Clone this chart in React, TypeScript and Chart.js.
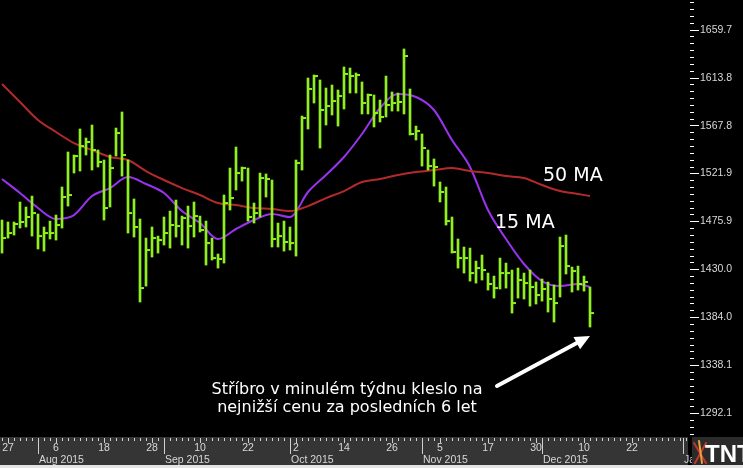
import React, { useEffect, useRef } from 'react';
import { Chart, registerables } from 'chart.js';

Chart.register(...registerables);

// ---- Data (trading-day index 0 = 24 Jul 2015, 98 = 11 Dec 2015) ----
const highs = [
  1477.3, 1475.4, 1475.4, 1494.6, 1489.8, 1500.3, 1483.1, 1470.6, 1476.3, 1482.1,
  1509.0, 1542.6, 1539.7, 1564.7, 1556.0, 1568.5, 1544.5, 1534.9, 1539.7, 1565.6,
  1581.0, 1534.9, 1497.5, 1478.3, 1460.0, 1470.6, 1461.9, 1480.2, 1485.9, 1496.5,
  1481.1, 1490.7, 1494.6, 1481.1, 1476.3, 1460.0, 1444.7, 1501.3, 1527.2, 1547.4,
  1528.2, 1527.2, 1493.6, 1522.4, 1521.5, 1515.7, 1474.4, 1476.3, 1470.6, 1534.9,
  1577.1, 1613.6, 1616.5, 1611.7, 1604.0, 1606.9, 1602.1, 1624.2, 1623.2, 1618.4,
  1609.8, 1598.3, 1597.3, 1592.5, 1615.5, 1600.2, 1599.2, 1641.5, 1603.1, 1567.5,
  1559.9, 1544.5, 1535.9, 1513.8, 1509.0, 1480.2, 1459.1, 1451.4, 1450.4, 1437.9,
  1443.7, 1426.4, 1423.5, 1440.8, 1436.0, 1429.3, 1431.2, 1426.4, 1429.3, 1417.8,
  1420.7, 1417.8, 1414.9, 1461.0, 1462.9, 1432.2, 1433.1, 1423.5, 1413.0,
];
const lows = [
  1445.6, 1460.0, 1462.9, 1469.6, 1470.6, 1461.9, 1449.5, 1447.5, 1459.1, 1458.1,
  1469.6, 1490.7, 1522.4, 1524.3, 1539.7, 1525.3, 1528.2, 1477.3, 1489.8, 1538.7,
  1519.5, 1464.8, 1461.0, 1398.6, 1413.9, 1441.8, 1445.6, 1453.3, 1450.4, 1461.0,
  1453.3, 1450.4, 1461.0, 1465.8, 1434.1, 1438.9, 1431.2, 1436.0, 1486.9, 1506.1,
  1514.7, 1476.3, 1474.4, 1480.2, 1499.4, 1451.4, 1451.4, 1447.5, 1448.5, 1442.7,
  1525.3, 1564.7, 1589.6, 1546.4, 1568.5, 1578.1, 1567.5, 1583.9, 1599.2, 1599.2,
  1579.1, 1579.1, 1566.6, 1571.4, 1576.2, 1581.9, 1581.9, 1579.1, 1558.9, 1554.1,
  1529.1, 1525.3, 1509.9, 1494.6, 1472.5, 1445.6, 1431.2, 1426.4, 1418.7, 1416.8,
  1419.7, 1410.1, 1402.4, 1411.1, 1412.0, 1388.0, 1402.4, 1401.5, 1394.7, 1396.7,
  1399.5, 1389.0, 1379.4, 1403.4, 1425.5, 1408.2, 1410.1, 1409.1, 1374.6,
];
const closes = [
  1460.0, 1464.8, 1473.5, 1475.4, 1480.2, 1484.0, 1461.9, 1464.8, 1464.8, 1472.5,
  1499.4, 1501.3, 1538.7, 1548.3, 1552.2, 1544.5, 1533.0, 1488.8, 1527.2, 1560.8,
  1539.7, 1484.0, 1470.6, 1412.0, 1448.5, 1460.0, 1458.1, 1464.8, 1472.5, 1471.5,
  1479.2, 1471.5, 1481.1, 1467.7, 1455.2, 1440.8, 1439.9, 1493.6, 1498.4, 1522.4,
  1527.2, 1480.2, 1484.0, 1517.6, 1516.7, 1459.1, 1461.9, 1456.2, 1455.2, 1532.0,
  1575.2, 1603.1, 1615.5, 1582.9, 1586.7, 1591.5, 1596.3, 1617.5, 1615.5, 1616.5,
  1589.6, 1597.3, 1580.0, 1576.2, 1587.7, 1589.6, 1590.6, 1634.7, 1559.9, 1562.7,
  1546.4, 1529.1, 1528.2, 1504.2, 1476.3, 1446.6, 1440.8, 1440.8, 1426.4, 1431.2,
  1429.3, 1415.9, 1412.0, 1426.4, 1426.4, 1397.6, 1419.7, 1416.8, 1413.0, 1405.3,
  1411.1, 1401.5, 1397.6, 1452.3, 1433.1, 1428.3, 1415.9, 1417.8, 1388.0,
];
const maIndex = [
  0, 3, 6, 9, 12, 15, 18, 21, 24, 27, 30, 33, 36, 39, 42, 45, 48,
  51, 54, 57, 60, 63, 66, 69, 72, 75, 78, 81, 84, 87, 90, 93, 96, 98,
];
const ma50 = [
  1607.9, 1590.6, 1573.3, 1561.8, 1551.2, 1544.5, 1537.8, 1534.9, 1524.3, 1515.7, 1508.0, 1501.3,
  1493.6, 1491.7, 1488.8, 1487.9, 1485.9, 1490.7, 1498.4, 1505.1, 1513.8, 1516.7, 1520.5, 1523.4,
  1525.3, 1527.2, 1524.3, 1522.4, 1519.5, 1517.6, 1510.9, 1505.1, 1502.3, 1500.3,
];
const ma15 = [
  1516.7, 1503.2, 1488.8, 1478.3, 1482.1, 1500.3, 1508.0, 1518.6, 1511.9, 1503.2, 1485.9, 1474.4,
  1459.1, 1468.7, 1477.3, 1483.1, 1480.2, 1504.2, 1520.5, 1537.8, 1559.9, 1584.8, 1598.3, 1595.4,
  1582.9, 1554.1, 1528.2, 1486.9, 1459.1, 1435.1, 1418.7, 1413.9, 1415.9, 1413.0,
];
const yTickValues = [1292.1, 1338.1, 1384.0, 1430.0, 1475.9, 1521.9, 1567.8, 1613.8, 1659.7];
const xTickIndex = [1, 9, 17, 25, 33, 41, 49, 57, 65, 73, 81, 89, 97, 105];
const xTickLabels = ['27', '6', '18', '28', '10', '22', '2', '14', '26', '5', '17', '30', '10', '22'];
const monthIndex = [6, 27, 48, 70, 90, 113.5];
const monthLabels = ['Aug 2015', 'Sep 2015', 'Oct 2015', 'Nov 2015', 'Dec 2015', 'Jan 2016'];
const noteLines = ['Stříbro v minulém týdnu kleslo na', 'nejnižší cenu za posledních 6 let'];

// ---- Styles ----
const GREEN = '#8ff01c';
const RED = '#b32a2a';
const PURPLE = '#9a33f0';
const AXIS_FONT = "'Liberation Sans', Arial, sans-serif";
const NOTE_FONT = "'DejaVu Sans', Verdana, sans-serif";
const X_MIN = -1 / 3;
const X_MAX = 114.333;
const Y_MIN = 1269.06;
const Y_MAX = 1688.49;
const TICK_SHIFT = 0.4;
const LAST_INDEX = 114;

const decoPlugin = {
  id: 'deco',
  beforeDraw(chart: any) {
    const { ctx, width, height, chartArea: ca } = chart;
    ctx.save();
    ctx.fillStyle = '#000';
    ctx.fillRect(0, 0, width, height);
    ctx.fillStyle = '#353535';
    ctx.fillRect(0, ca.bottom, ca.right, height - ca.bottom);
    ctx.restore();
  },
  afterDraw(chart: any) {
    const { ctx, width, height, chartArea: ca } = chart;
    const xs = chart.scales.x;
    const ys = chart.scales.y;
    ctx.save();
    // x minor ticks
    ctx.fillStyle = '#d0d0d0';
    for (let i = 0; i <= LAST_INDEX; i++) {
      const px = Math.round(xs.getPixelForValue(i));
      ctx.fillRect(px, ca.bottom + 1, 1, 3);
    }
    for (const v of xTickIndex) {
      const px = Math.round(xs.getPixelForValue(v));
      ctx.fillRect(px, ca.bottom + 1, 1, 5);
    }
    // month ticks & labels
    ctx.font = `10.5px ${AXIS_FONT}`;
    ctx.textAlign = 'left';
    ctx.textBaseline = 'middle';
    monthIndex.forEach((m, k) => {
      const px = Math.round(xs.getPixelForValue(m));
      ctx.fillStyle = '#d0d0d0';
      ctx.fillRect(px, ca.bottom + 1, 1, 16);
      ctx.fillStyle = '#d8d8d8';
      ctx.fillText(monthLabels[k], px + 1, ca.bottom + 23);
    });
    // y ticks
    ctx.fillStyle = '#ffffff';
    const step = (yTickValues[1] - yTickValues[0]) / 7;
    for (let k = -40; k <= 80; k++) {
      const v = yTickValues[0] + k * step;
      if (v < Y_MIN || v > Y_MAX) continue;
      const py = Math.round(ys.getPixelForValue(v));
      const major = k % 7 === 0;
      ctx.fillRect(ca.right + 2, py, major ? 9 : 4, 1);
    }
    // MA labels
    ctx.fillStyle = '#ffffff';
    ctx.font = `19px ${NOTE_FONT}`;
    ctx.textAlign = 'left';
    ctx.textBaseline = 'alphabetic';
    ctx.fillText('50 MA', xs.getPixelForValue(90.17), ys.getPixelForValue(1514.7));
    ctx.fillText('15 MA', xs.getPixelForValue(82.17), ys.getPixelForValue(1469.6));
    // note
    ctx.font = `16px ${NOTE_FONT}`;
    ctx.textAlign = 'center';
    ctx.fillText(noteLines[0], xs.getPixelForValue(57.5), ys.getPixelForValue(1310.3));
    ctx.fillText(noteLines[1], xs.getPixelForValue(57.5), ys.getPixelForValue(1293.5));
    // arrow
    const x0 = xs.getPixelForValue(82.5);
    const y0 = ys.getPixelForValue(1318.0);
    const x1 = xs.getPixelForValue(98.0);
    const y1 = ys.getPixelForValue(1366.0);
    const ang = Math.atan2(y1 - y0, x1 - x0);
    const headLen = 15;
    const headW = 7;
    const bx = x1 - Math.cos(ang) * headLen;
    const by = y1 - Math.sin(ang) * headLen;
    ctx.strokeStyle = '#ffffff';
    ctx.lineWidth = 4;
    ctx.lineCap = 'round';
    ctx.beginPath();
    ctx.moveTo(x0, y0);
    ctx.lineTo(bx, by);
    ctx.stroke();
    ctx.beginPath();
    ctx.moveTo(x1, y1);
    ctx.lineTo(bx + Math.sin(ang) * headW, by - Math.cos(ang) * headW);
    ctx.lineTo(bx - Math.sin(ang) * headW, by + Math.cos(ang) * headW);
    ctx.closePath();
    ctx.fillStyle = '#ffffff';
    ctx.fill();
    // logo corner
    const lx = ca.right;
    const ly = ca.bottom;
    ctx.fillStyle = '#2b2b2b';
    ctx.fillRect(lx + 4, ly, width - lx - 4, height - ly);
    ctx.strokeStyle = '#c0392b';
    ctx.lineWidth = 2;
    ctx.beginPath();
    ctx.moveTo(lx + 6, ly + 6);
    ctx.lineTo(lx + 18, ly + 26);
    ctx.moveTo(lx + 18, ly + 6);
    ctx.lineTo(lx + 7, ly + 26);
    ctx.stroke();
    ctx.strokeStyle = '#e8a040';
    ctx.beginPath();
    ctx.moveTo(lx + 11, ly + 4);
    ctx.lineTo(lx + 14, ly + 26);
    ctx.stroke();
    ctx.fillStyle = '#ffffff';
    ctx.font = `bold 24px 'Liberation Sans Narrow', ${AXIS_FONT}`;
    ctx.textAlign = 'left';
    ctx.textBaseline = 'alphabetic';
    ctx.fillText('TNT', lx + 17, ly + 25);
    // bottom light strip
    ctx.fillStyle = '#e4e4e4';
    ctx.fillRect(0, height - 3, width, 3);
    ctx.restore();
  },
};

export default function App() {
  const ref = useRef<HTMLCanvasElement>(null);
  useEffect(() => {
    const canvas = ref.current;
    if (!canvas) return;
    const bars = highs.map((h, i) => ({ x: i, y: [lows[i], h] }));
    const closePts = closes.map((c, i) => ({ x: i + TICK_SHIFT, y: c }));
    const ma50Pts = maIndex.map((x, k) => ({ x, y: ma50[k] }));
    const ma15Pts = maIndex.map((x, k) => ({ x, y: ma15[k] }));
    const chart = new Chart(canvas, {
      type: 'bar',
      data: {
        datasets: [
          {
            type: 'bar',
            data: bars as any,
            backgroundColor: GREEN,
            borderWidth: 0,
            barThickness: 2,
            order: 1,
          },
          {
            type: 'line',
            data: closePts as any,
            showLine: false,
            pointStyle: 'line',
            pointRadius: 1.6,
            pointHoverRadius: 0,
            pointBorderWidth: 2,
            pointBorderColor: GREEN,
            pointBackgroundColor: GREEN,
            order: 0,
          },
          {
            type: 'line',
            data: ma50Pts as any,
            borderColor: RED,
            borderWidth: 2,
            pointRadius: 0,
            pointHoverRadius: 0,
            cubicInterpolationMode: 'monotone',
            order: 2,
          },
          {
            type: 'line',
            data: ma15Pts as any,
            borderColor: PURPLE,
            borderWidth: 2,
            pointRadius: 0,
            pointHoverRadius: 0,
            cubicInterpolationMode: 'monotone',
            order: 2,
          },
        ],
      } as any,
      options: {
        animation: false,
        responsive: false,
        maintainAspectRatio: false,
        devicePixelRatio: 1,
        events: [],
        layout: { padding: 0, autoPadding: false },
        plugins: { legend: { display: false }, tooltip: { enabled: false } },
        scales: {
          x: {
            type: 'linear',
            position: 'bottom',
            min: X_MIN,
            max: X_MAX,
            offset: false,
            grid: { display: false, drawTicks: false, offset: false },
            border: { display: false },
            afterBuildTicks: (s: any) => {
              s.ticks = xTickIndex.map((v) => ({ value: v }));
            },
            afterFit: (s: any) => {
              s.height = 31;
              s.paddingLeft = 0;
              s.paddingRight = 0;
            },
            ticks: {
              autoSkip: false,
              maxRotation: 0,
              padding: 5,
              color: '#d8d8d8',
              font: { family: AXIS_FONT, size: 10.5 },
              callback: (v: any) => {
                const k = xTickIndex.indexOf(Number(v));
                return k >= 0 ? xTickLabels[k] : '';
              },
            },
          },
          y: {
            type: 'linear',
            position: 'right',
            min: Y_MIN,
            max: Y_MAX,
            grid: { display: false, drawTicks: false },
            border: { display: false },
            afterBuildTicks: (s: any) => {
              s.ticks = yTickValues.map((v) => ({ value: v }));
            },
            afterFit: (s: any) => {
              s.width = 55;
              s.paddingTop = 0;
              s.paddingBottom = 0;
            },
            ticks: {
              padding: 12,
              color: '#d8d8d8',
              font: { family: AXIS_FONT, size: 10.5 },
              callback: (v: any) => Number(v).toFixed(1),
            },
          },
        },
      } as any,
      plugins: [decoPlugin],
    });
    return () => chart.destroy();
  }, []);
  return (
    <div style={{ position: 'fixed', left: 0, top: 0, width: 743, height: 468, background: '#000' }}>
      <canvas ref={ref} width={743} height={468} style={{ display: 'block' }} />
    </div>
  );
}
